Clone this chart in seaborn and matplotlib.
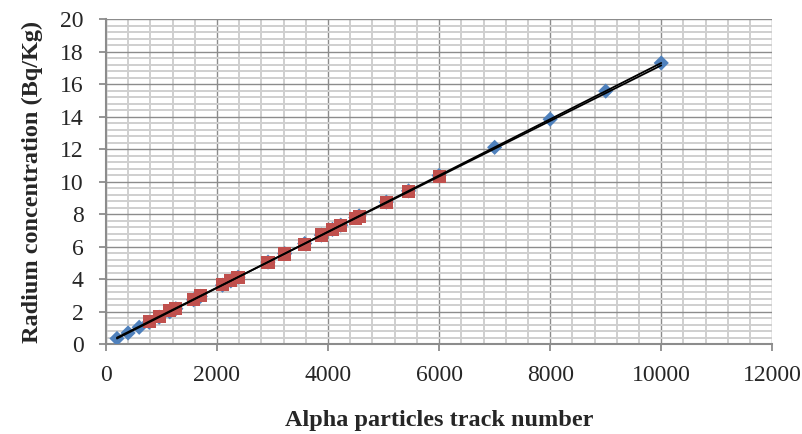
import matplotlib
matplotlib.use("Agg")
import matplotlib.pyplot as plt
import seaborn as sns
import numpy as np
from matplotlib.ticker import MultipleLocator

# calibration series (blue diamonds)
calib_x = [200, 400, 600, 780, 960, 1150, 1260, 1580, 1700, 2100, 2250, 2380,
           2920, 3220, 3580, 3880, 4080, 4230, 4500, 4560, 5050, 5450, 6000,
           7000, 8000, 9000, 10000]
calib_y = [0.35, 0.69, 1.04, 1.35, 1.66, 1.99, 2.18, 2.73, 2.94, 3.63, 3.89, 4.12,
           5.05, 5.57, 6.19, 6.71, 7.06, 7.32, 7.79, 7.89, 8.74, 9.43, 10.38,
           12.11, 13.84, 15.57, 17.30]

# measured samples (red squares)
samp_x = [780, 960, 1150, 1260, 1580, 1700, 2100, 2250, 2380, 2920, 3220, 3580,
          3880, 4080, 4230, 4500, 4560, 5050, 5450, 6000]
samp_y = [1.40, 1.72, 2.05, 2.20, 2.75, 2.97, 3.65, 3.92, 4.12, 5.00, 5.55, 6.15,
          6.72, 7.08, 7.32, 7.75, 7.85, 8.70, 9.38, 10.30]

sns.set_style("white")
plt.rcParams['font.family'] = ['Liberation Serif', 'DejaVu Serif']

fig = plt.figure(figsize=(8.02, 4.34), dpi=100)
ax = fig.add_axes([0.132, 0.207, 0.831, 0.749])

sns.scatterplot(x=calib_x, y=calib_y, marker='D', s=60, color='#4F81BD',
                edgecolor='none', ax=ax, zorder=3)
sns.scatterplot(x=samp_x, y=samp_y, marker='s', s=90, color='#C0504D',
                edgecolor='none', ax=ax, zorder=4)

# linear trendlines
line_x = np.array([200, 10000])
k1, b1 = np.polyfit(calib_x, calib_y, 1)
k2, b2 = np.polyfit(samp_x, samp_y, 1)
ax.plot(line_x, k1 * line_x + b1, color='black', lw=1.3, zorder=5)
ax.plot(line_x, k2 * line_x + b2, color='black', lw=1.3, zorder=5)

ax.set_xlim(0, 12000)
ax.set_ylim(0, 20)
ax.xaxis.set_major_locator(MultipleLocator(2000))
ax.xaxis.set_minor_locator(MultipleLocator(400))
ax.yaxis.set_major_locator(MultipleLocator(2))
ax.yaxis.set_minor_locator(MultipleLocator(0.4))
ax.grid(which='major', color='#8c8c8c', lw=1.0)
ax.grid(which='minor', color='#cfcfcf', lw=1.4)
ax.set_axisbelow(True)

for s in ['top', 'right']:
    ax.spines[s].set_visible(False)
for s in ['left', 'bottom']:
    ax.spines[s].set_color('#8c8c8c')
    ax.spines[s].set_linewidth(1.5)

ax.tick_params(which='major', direction='out', length=5, width=1.3,
               color='#8c8c8c', labelsize=17, left=True, bottom=True)
ax.tick_params(axis='x', which='major', pad=10)
ax.tick_params(axis='y', which='major', pad=11)
ax.tick_params(which='minor', length=0)

ax.set_xlabel("Alpha particles track number", fontsize=17.5, fontweight='bold',
              labelpad=17)
ax.set_ylabel("Radium concentration (Bq/Kg)", fontsize=17.5, fontweight='bold',
              labelpad=12)

fig.savefig("out.png", dpi=100)
